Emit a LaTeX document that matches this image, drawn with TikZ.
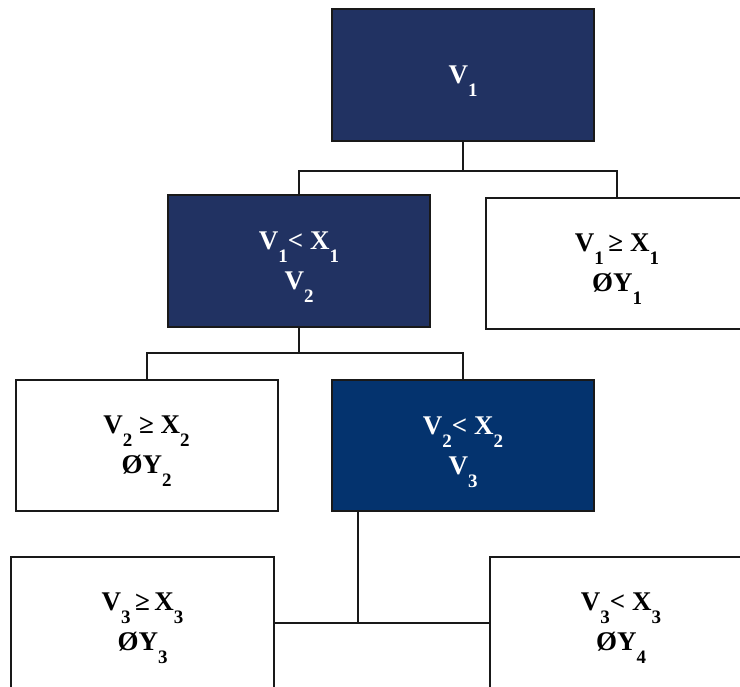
\documentclass[tikz,border=0pt]{standalone}
\usepackage{fontspec}
\setmainfont{Liberation Serif}
\definecolor{navyA}{HTML}{213262}
\definecolor{navyB}{HTML}{04336E}
\newcommand\sbs[1]{\raisebox{-13pt}[0pt][0pt]{\fontsize{19}{19}\selectfont #1}}
\begin{document}
\begin{tikzpicture}[x=1pt,y=-1pt,
  boxbase/.style={draw=black!90,line width=2pt,inner sep=0pt,minimum width=262pt,
    align=center,font=\fontsize{27}{40}\selectfont\bfseries},
  darkbox/.style={boxbase,fill=navyA,text=white,minimum height=132pt},
  darkboxb/.style={boxbase,fill=navyB,text=white,minimum height=131pt},
  lightbox/.style={boxbase,fill=white,text=black,minimum height=131pt},
  conn/.style={line width=2pt,draw=black!90}]
\clip (0,0) rectangle (740,687);
\fill[white] (0,0) rectangle (740,687);
\node[darkbox] (v1) at (463,75) {V\sbs{1}};
\node[darkbox] (v2) at (299,261) {V\sbs{1}< X\sbs{1}\\V\sbs{2}};
\node[lightbox] (y1) at (617,263.5) {V\sbs{1}\,≥ X\sbs{1}\\ØY\sbs{1}};
\node[lightbox] (y2) at (146.5,445.5) {V\sbs{2} ≥ X\sbs{2}\\ØY\sbs{2}};
\node[darkboxb] (v3) at (463,445.5) {V\sbs{2}< X\sbs{2}\\V\sbs{3}};
\node[lightbox,minimum width=263pt] (y3) at (142.5,622.5) {V\sbs{3}\,≥\,X\sbs{3}\\ØY\sbs{3}};
\node[lightbox] (y4) at (621,622.5) {V\sbs{3}< X\sbs{3}\\ØY\sbs{4}};
\path (v1.south) ++(0,29) coordinate (j1);
\path (v2.south) ++(0,25) coordinate (j2);
\path (v3.south) ++(-105,0) coordinate (k3);
\draw[conn] (v1.south) -- (j1);
\draw[conn] (v2.north) |- (j1) -| (y1.north);
\draw[conn] (v2.south) -- (j2);
\draw[conn] (y2.north) |- (j2) -| (v3.north);
\draw[conn] (k3) -- (k3 |- y3.east);
\draw[conn] (y3.east) -- (y4.west);
\end{tikzpicture}
\end{document}
